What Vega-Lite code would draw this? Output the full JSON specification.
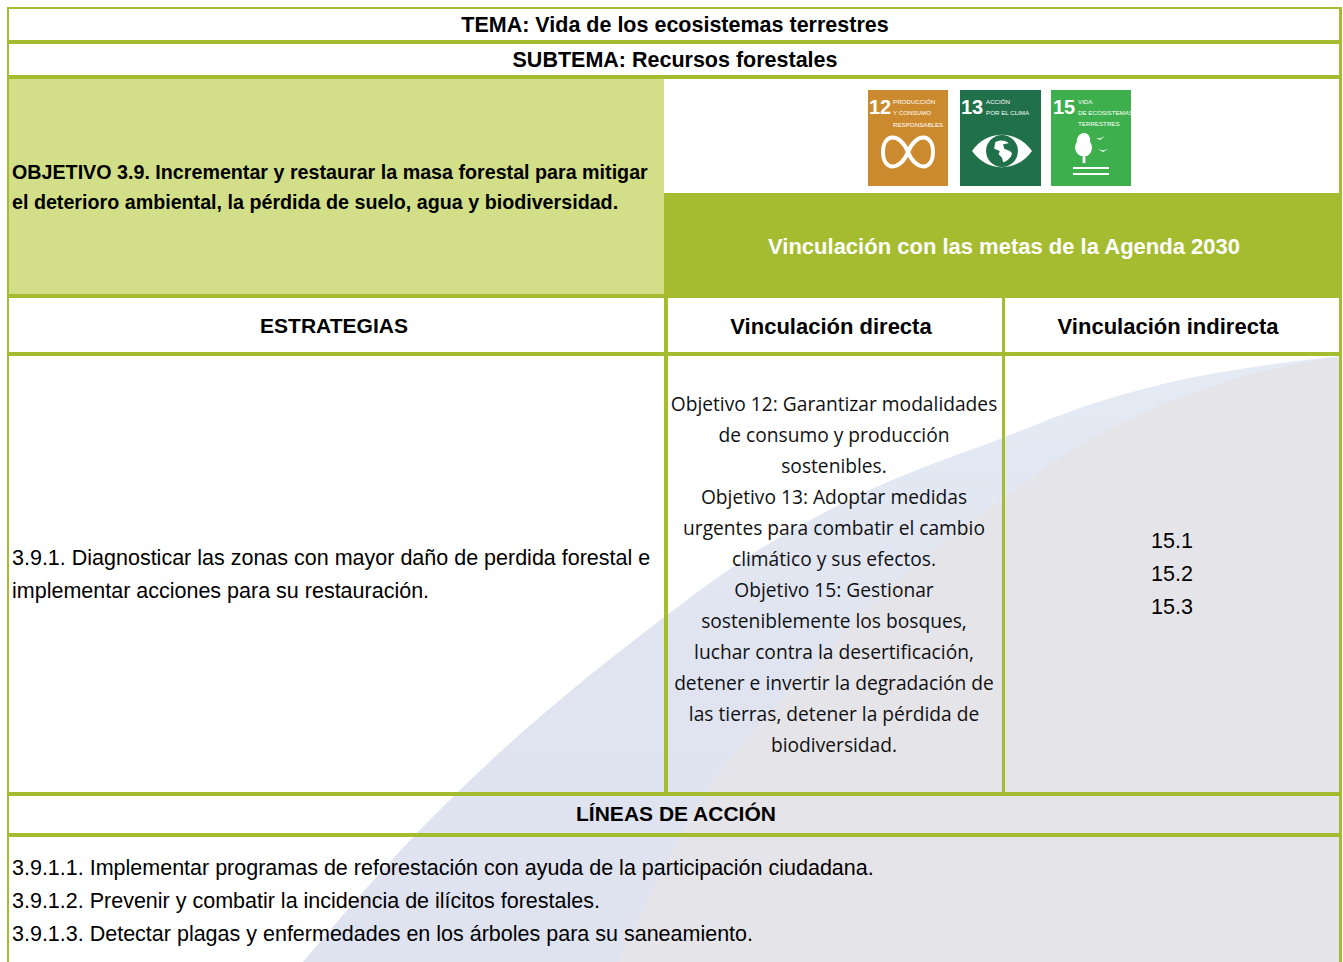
{"$schema":"https://vega.github.io/schema/vega-lite/v6.json","width":1343,"height":962,"autosize":{"type":"fit","contains":"padding"},"padding":0,"background":"#ffffff","view":{"stroke":null},
"datasets":{
"wm1":[{"x":303,"y":962,"b":962},{"x":417,"y":833,"b":962},{"x":460,"y":790,"b":962},{"x":667,"y":615,"b":962},{"x":743,"y":560,"b":962},{"x":870,"y":490,"b":962},{"x":1005,"y":437,"b":962},{"x":1083,"y":407,"b":962},{"x":1167,"y":383,"b":962},{"x":1267,"y":365,"b":962},{"x":1340,"y":356,"b":962}],
"wm2":[{"x":617,"y":962,"b":962},{"x":703,"y":797,"b":962},{"x":800,"y":680,"b":962},{"x":910,"y":570,"b":962},{"x":1005,"y":497,"b":962},{"x":1083,"y":443,"b":962},{"x":1167,"y":403,"b":962},{"x":1267,"y":370,"b":962},{"x":1340,"y":357,"b":962}],
"cells":[
{"k":"light","x0":9,"x1":664,"y0":79,"y1":294},
{"k":"olive","x0":664,"x1":1342,"y0":193,"y1":297},
{"k":"orange","x0":868,"x1":948,"y0":90,"y1":186},
{"k":"dgreen","x0":960,"x1":1041,"y0":90,"y1":186},
{"k":"lgreen","x0":1051,"x1":1131,"y0":90,"y1":186},
{"k":"line","x0":7,"x1":1342,"y0":7,"y1":9},
{"k":"line","x0":7,"x1":1342,"y0":40,"y1":44},
{"k":"line","x0":7,"x1":1342,"y0":75,"y1":79},
{"k":"line","x0":7,"x1":1342,"y0":294,"y1":298},
{"k":"line","x0":7,"x1":1342,"y0":352,"y1":356},
{"k":"line","x0":7,"x1":1342,"y0":792,"y1":796},
{"k":"line","x0":7,"x1":1342,"y0":833,"y1":837},
{"k":"line","x0":7,"x1":9,"y0":7,"y1":962},
{"k":"line","x0":1339,"x1":1342,"y0":7,"y1":962},
{"k":"line","x0":664,"x1":668,"y0":296,"y1":794},
{"k":"line","x0":1002,"x1":1005,"y0":296,"y1":794}],
"labels":[
{"g":"bt","x":675,"y":26,"t":"TEMA: Vida de los ecosistemas terrestres"},
{"g":"bt","x":675,"y":61,"t":"SUBTEMA: Recursos forestales"},
{"g":"bc","x":334,"y":327,"t":"ESTRATEGIAS"},
{"g":"bd","x":831,"y":327,"t":"Vinculación directa"},
{"g":"bd","x":1168,"y":327,"t":"Vinculación indirecta"},
{"g":"bc","x":676,"y":815,"t":"LÍNEAS DE ACCIÓN"},
{"g":"wh","x":1004,"y":247,"t":"Vinculación con las metas de la Agenda 2030"},
{"g":"bl","x":12,"y":173,"t":"OBJETIVO 3.9. Incrementar y restaurar la masa forestal para mitigar"},
{"g":"bl","x":12,"y":203,"t":"el deterioro ambiental, la pérdida de suelo, agua y biodiversidad."},
{"g":"rl","x":12,"y":559,"t":"3.9.1. Diagnosticar las zonas con mayor daño de perdida forestal e"},
{"g":"rl","x":12,"y":592,"t":"implementar acciones para su restauración."},
{"g":"rl","x":12,"y":869,"t":"3.9.1.1. Implementar programas de reforestación con ayuda de la participación ciudadana."},
{"g":"rl","x":12,"y":902,"t":"3.9.1.2. Prevenir y combatir la incidencia de ilícitos forestales."},
{"g":"rl","x":12,"y":935,"t":"3.9.1.3. Detectar plagas y enfermedades en los árboles para su saneamiento."},
{"g":"cc","x":834,"y":405,"t":"Objetivo 12: Garantizar modalidades"},
{"g":"cc","x":834,"y":436,"t":"de consumo y producción"},
{"g":"cc","x":834,"y":467,"t":"sostenibles."},
{"g":"cc","x":834,"y":498,"t":"Objetivo 13: Adoptar medidas"},
{"g":"cc","x":834,"y":529,"t":"urgentes para combatir el cambio"},
{"g":"cc","x":834,"y":560,"t":"climático y sus efectos."},
{"g":"cc","x":834,"y":591,"t":"Objetivo 15: Gestionar"},
{"g":"cc","x":834,"y":622,"t":"sosteniblemente los bosques,"},
{"g":"cc","x":834,"y":653,"t":"luchar contra la desertificación,"},
{"g":"cc","x":834,"y":684,"t":"detener e invertir la degradación de"},
{"g":"cc","x":834,"y":715,"t":"las tierras, detener la pérdida de"},
{"g":"cc","x":834,"y":746,"t":"biodiversidad."},
{"g":"nm","x":1172,"y":542,"t":"15.1"},
{"g":"nm","x":1172,"y":575,"t":"15.2"},
{"g":"nm","x":1172,"y":608,"t":"15.3"},
{"g":"tn","x":880,"y":108,"t":"12"},
{"g":"tn","x":972,"y":108,"t":"13"},
{"g":"tn","x":1064,"y":108,"t":"15"},
{"g":"ts","x":893,"y":102,"t":"PRODUCCIÓN"},
{"g":"ts","x":893,"y":113,"t":"Y CONSUMO"},
{"g":"ts","x":893,"y":125,"t":"RESPONSABLES"},
{"g":"ts","x":986,"y":102,"t":"ACCIÓN"},
{"g":"ts","x":986,"y":113,"t":"POR EL CLIMA"},
{"g":"ts","x":1078,"y":102,"t":"VIDA"},
{"g":"ts","x":1078,"y":113,"t":"DE ECOSISTEMAS"},
{"g":"ts","x":1078,"y":124,"t":"TERRESTRES"}],
"icons":[{"i":"inf","x":908,"y":152},{"i":"eye","x":1002,"y":151},{"i":"tree","x":1091,"y":153}]
},
"layer":[
{"data":{"name":"wm1"},"mark":{"type":"area","interpolate":"monotone","color":{"x1":0,"y1":0,"x2":0,"y2":1,"gradient":"linear","stops":[{"offset":0,"color":"#e4ebf5"},{"offset":0.5,"color":"#e0e4f0"},{"offset":1,"color":"#dfe2ef"}]}},"encoding":{"x":{"field":"x","type":"quantitative","scale":{"domain":[0,1343],"nice":false,"zero":false},"axis":null},"y":{"field":"y","type":"quantitative","scale":{"domain":[0,962],"reverse":true,"nice":false,"zero":false},"axis":null},"y2":{"field":"b"}}},
{"data":{"name":"wm2"},"mark":{"type":"area","interpolate":"monotone","color":"#e5e4e9"},"encoding":{"x":{"field":"x","type":"quantitative","scale":{"domain":[0,1343],"nice":false,"zero":false},"axis":null},"y":{"field":"y","type":"quantitative","scale":{"domain":[0,962],"reverse":true,"nice":false,"zero":false},"axis":null},"y2":{"field":"b"}}},
{"data":{"name":"cells"},"mark":{"type":"rect"},"encoding":{"x":{"field":"x0","type":"quantitative","scale":{"domain":[0,1343],"nice":false,"zero":false},"axis":null},"x2":{"field":"x1"},"y":{"field":"y0","type":"quantitative","scale":{"domain":[0,962],"reverse":true,"nice":false,"zero":false},"axis":null},"y2":{"field":"y1"},"color":{"field":"k","type":"nominal","legend":null,"scale":{"domain":["light","olive","orange","dgreen","lgreen","line"],"range":["#d2df88","#a6bc30","#cc8a2e","#20704a","#3daf4c","#a6bc30"]}}}},
{"data":{"name":"icons"},"transform":[{"filter":"datum.i==='inf'"}],"mark":{"type":"point","filled":false,"opacity":1,"color":"#ffffff","strokeWidth":4,"size":2500,"shape":"M0,0 C-0.3,-0.77 -1,-0.77 -1,0 C-1,0.77 -0.3,0.77 0,0 C0.3,-0.77 1,-0.77 1,0 C1,0.77 0.3,0.77 0,0 Z"},"encoding":{"x":{"field":"x","type":"quantitative","axis":null},"y":{"field":"y","type":"quantitative","axis":null}}},
{"data":{"name":"icons"},"transform":[{"filter":"datum.i==='eye'"}],"mark":{"type":"point","filled":true,"opacity":1,"color":"#ffffff","size":3600,"shape":"M-1,0 C-0.5,-0.72 0.5,-0.72 1,0 C0.5,0.72 -0.5,0.72 -1,0 Z"},"encoding":{"x":{"field":"x","type":"quantitative","axis":null},"y":{"field":"y","type":"quantitative","axis":null}}},
{"data":{"name":"icons"},"transform":[{"filter":"datum.i==='eye'"}],"mark":{"type":"point","filled":true,"opacity":1,"color":"#20704a","size":1018,"shape":"circle"},"encoding":{"x":{"field":"x","type":"quantitative","axis":null},"y":{"field":"y","type":"quantitative","axis":null}}},
{"data":{"name":"icons"},"transform":[{"filter":"datum.i==='eye'"}],"mark":{"type":"point","filled":true,"opacity":1,"color":"#ffffff","size":500,"shape":"M-0.6,-0.8 C-0.2,-1 0.3,-1 0.6,-0.7 L0.1,-0.6 L0.2,-0.2 L0.7,0 L0.9,0.2 C0.8,0.6 0.5,0.9 0.1,1 L0,0.6 L-0.3,0.3 L-0.2,0 L-0.7,-0.2 Z"},"encoding":{"x":{"field":"x","type":"quantitative","axis":null},"y":{"field":"y","type":"quantitative","axis":null}}},
{"data":{"name":"icons"},"transform":[{"filter":"datum.i==='tree'"}],"mark":{"type":"point","filled":true,"opacity":1,"color":"#ffffff","size":1600,"shape":"M-0.35,-1 C-0.1,-1 0,-0.7 -0.05,-0.55 C0.1,-0.4 0.1,0 -0.2,0.15 L-0.28,0.15 L-0.28,0.5 L-0.42,0.5 L-0.42,0.15 L-0.5,0.15 C-0.85,0 -0.85,-0.4 -0.7,-0.55 C-0.75,-0.7 -0.6,-1 -0.35,-1 Z M-0.9,0.7 H0.9 V0.8 H-0.9 Z M-0.9,1 H0.9 V1.1 H-0.9 Z M0.25,-0.75 L0.45,-0.65 L0.7,-0.85 L0.45,-0.72 Z M0.35,-0.2 L0.6,-0.05 L0.85,-0.2 L0.6,-0.13 Z"},"encoding":{"x":{"field":"x","type":"quantitative","axis":null},"y":{"field":"y","type":"quantitative","axis":null}}},
{"data":{"name":"labels"},"transform":[{"filter":"datum.g==='bc'"}],"mark":{"type":"text","font":"Liberation Sans","fontWeight":"bold","fontSize":21,"align":"center","baseline":"middle","color":"#000000"},"encoding":{"x":{"field":"x","type":"quantitative","axis":null},"y":{"field":"y","type":"quantitative","axis":null},"text":{"field":"t"}}},
{"data":{"name":"labels"},"transform":[{"filter":"datum.g==='bt'"}],"mark":{"type":"text","font":"Liberation Sans","fontWeight":"bold","fontSize":21.5,"align":"center","baseline":"middle","color":"#000000"},"encoding":{"x":{"field":"x","type":"quantitative","axis":null},"y":{"field":"y","type":"quantitative","axis":null},"text":{"field":"t"}}},
{"data":{"name":"labels"},"transform":[{"filter":"datum.g==='bd'"}],"mark":{"type":"text","font":"Liberation Sans","fontWeight":"bold","fontSize":22,"align":"center","baseline":"middle","color":"#000000"},"encoding":{"x":{"field":"x","type":"quantitative","axis":null},"y":{"field":"y","type":"quantitative","axis":null},"text":{"field":"t"}}},
{"data":{"name":"labels"},"transform":[{"filter":"datum.g==='wh'"}],"mark":{"type":"text","font":"Liberation Sans","fontWeight":"bold","fontSize":22,"align":"center","baseline":"middle","color":"#ffffff"},"encoding":{"x":{"field":"x","type":"quantitative","axis":null},"y":{"field":"y","type":"quantitative","axis":null},"text":{"field":"t"}}},
{"data":{"name":"labels"},"transform":[{"filter":"datum.g==='bl'"}],"mark":{"type":"text","font":"Liberation Sans","fontWeight":"bold","fontSize":19.7,"align":"left","baseline":"middle","color":"#000000"},"encoding":{"x":{"field":"x","type":"quantitative","axis":null},"y":{"field":"y","type":"quantitative","axis":null},"text":{"field":"t"}}},
{"data":{"name":"labels"},"transform":[{"filter":"datum.g==='rl'"}],"mark":{"type":"text","font":"Liberation Sans","fontSize":21.5,"align":"left","baseline":"middle","color":"#000000"},"encoding":{"x":{"field":"x","type":"quantitative","axis":null},"y":{"field":"y","type":"quantitative","axis":null},"text":{"field":"t"}}},
{"data":{"name":"labels"},"transform":[{"filter":"datum.g==='cc'"}],"mark":{"type":"text","font":"Open Sans","fontSize":19.2,"align":"center","baseline":"middle","color":"#111111"},"encoding":{"x":{"field":"x","type":"quantitative","axis":null},"y":{"field":"y","type":"quantitative","axis":null},"text":{"field":"t"}}},
{"data":{"name":"labels"},"transform":[{"filter":"datum.g==='nm'"}],"mark":{"type":"text","font":"Liberation Sans","fontSize":21.5,"align":"center","baseline":"middle","color":"#000000"},"encoding":{"x":{"field":"x","type":"quantitative","axis":null},"y":{"field":"y","type":"quantitative","axis":null},"text":{"field":"t"}}},
{"data":{"name":"labels"},"transform":[{"filter":"datum.g==='tn'"}],"mark":{"type":"text","font":"Liberation Sans","fontWeight":"bold","fontSize":20,"align":"center","baseline":"middle","color":"#ffffff"},"encoding":{"x":{"field":"x","type":"quantitative","axis":null},"y":{"field":"y","type":"quantitative","axis":null},"text":{"field":"t"}}},
{"data":{"name":"labels"},"transform":[{"filter":"datum.g==='ts'"}],"mark":{"type":"text","font":"Liberation Sans","fontSize":6.2,"align":"left","baseline":"middle","color":"#ffffff"},"encoding":{"x":{"field":"x","type":"quantitative","axis":null},"y":{"field":"y","type":"quantitative","axis":null},"text":{"field":"t"}}}
]}
